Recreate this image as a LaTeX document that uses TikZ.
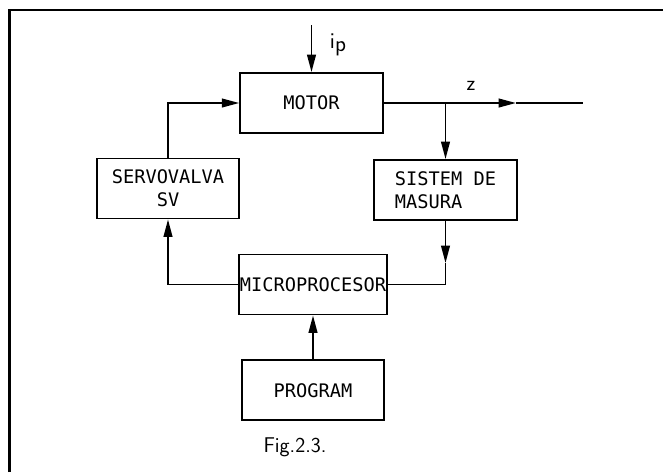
\documentclass[tikz,border=0pt]{standalone}
\usepackage{fontspec}
\newfontfamily\blokfont{DejaVu Sans Mono}
\usetikzlibrary{arrows.meta,positioning}

\begin{document}
\begin{tikzpicture}[x=0.75pt,y=-0.75pt,line width=1.4pt,
  >={Triangle[length=13pt,width=6.5pt]},
  blok/.style={draw,minimum width=107pt,minimum height=45pt,inner sep=1pt,
    font=\blokfont\fontsize{14}{17}\selectfont},
  eticheta/.style={inner sep=1pt,font=\sffamily\fontsize{16}{19}\selectfont}]
\useasboundingbox (0,0) rectangle (663,472);
\draw[line width=2.2pt] (9.5,472)--(9.5,10)--(663,10);
\node[blok] (motor) at (311.5,103) {MOTOR};
\node[blok,align=center] (servo) at (168,188.5) {SERVOVALVA\\SV};
\node[blok,align=left] (sistem) at (445.5,190) {SISTEM DE\\MASURA};
\node[blok] (micro) at (313,284.5) {MICROPROCESOR};
\node[blok,below=33pt of micro] (program) {PROGRAM};
\coordinate (ipin) at (311.5,25);
\coordinate (br) at (sistem.north |- motor.east);
\coordinate (zarr) at (516,103);
\coordinate (zend) at (583,103);
\coordinate (sarr) at (445.5,263);
\draw[->] (ipin)--(motor.north);
\node[eticheta,font=\sffamily\fontsize{17}{20}\selectfont] (ip) at (338,45) {i\raisebox{-2pt}{p}};
\draw (motor.east)--(br);
\draw[->] (br)--(zarr);
\draw (zarr)--(zend);
\node[eticheta] (z) at (471,86) {z};
\draw[->] (br)--(sistem.north);
\draw[->] (servo.north) |- (motor.west);
\draw[->] (sistem.south)--(sarr);
\draw (sarr) |- (micro.east);
\draw[->] (micro.west) -| (servo.south);
\draw[->] (program.north)--(micro.south);
\node[eticheta,anchor=base] (fig) at (295,452) {Fig.2.3.};
\end{tikzpicture}
\end{document}
